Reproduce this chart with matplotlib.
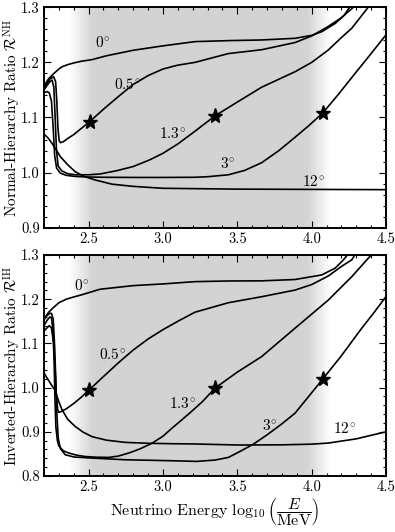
import numpy as np
import matplotlib
matplotlib.use('Agg')
import matplotlib.pyplot as plt
from matplotlib.colors import LinearSegmentedColormap
from matplotlib.ticker import MultipleLocator

plt.rcParams['font.family'] = ['cmr10']
plt.rcParams['mathtext.fontset'] = 'cm'
plt.rcParams['axes.formatter.use_mathtext'] = True
plt.rcParams['axes.unicode_minus'] = False

# ---- normal hierarchy curves (log10 E/MeV, ratio) ----
nh_0_x = [2.20, 2.23, 2.263, 2.30, 2.321, 2.36, 2.40, 2.45, 2.523, 2.62, 2.80, 3.00, 3.215, 3.44, 3.664, 3.888, 4.00, 4.07, 4.16, 4.22, 4.255]
nh_0_y = [1.157, 1.170, 1.179, 1.188, 1.192, 1.196, 1.199, 1.202, 1.205, 1.212, 1.222, 1.230, 1.2377, 1.2395, 1.2407, 1.2437, 1.249, 1.256, 1.271, 1.286, 1.30]

nh_05_x = [2.20, 2.22, 2.24, 2.265, 2.278, 2.286, 2.294, 2.302, 2.31, 2.33, 2.36, 2.40, 2.45, 2.507, 2.60, 2.70, 2.80, 2.90, 3.00, 3.10, 3.215, 3.44, 3.664, 3.888, 4.00, 4.11, 4.20, 4.28]
nh_05_y = [1.153, 1.162, 1.170, 1.174, 1.165, 1.130, 1.080, 1.058, 1.0543, 1.056, 1.062, 1.069, 1.080, 1.0924, 1.115, 1.138, 1.160, 1.176, 1.188, 1.195, 1.200, 1.216, 1.223, 1.236, 1.248, 1.265, 1.281, 1.30]

nh_13_x = [2.20, 2.22, 2.24, 2.254, 2.266, 2.275, 2.284, 2.295, 2.32, 2.36, 2.41, 2.50, 2.577, 2.69, 2.80, 2.91, 3.00, 3.10, 3.215, 3.35, 3.50, 3.664, 3.888, 4.00, 4.11, 4.20, 4.27, 4.38]
nh_13_y = [1.150, 1.158, 1.165, 1.168, 1.155, 1.100, 1.040, 1.012, 1.003, 0.998, 0.996, 0.996, 0.9975, 1.0035, 1.011, 1.023, 1.035, 1.052, 1.075, 1.103, 1.128, 1.155, 1.183, 1.200, 1.222, 1.245, 1.262, 1.30]

nh_3_x = [2.20, 2.22, 2.235, 2.25, 2.262, 2.272, 2.285, 2.31, 2.35, 2.41, 2.50, 2.60, 2.80, 3.00, 3.215, 3.30, 3.44, 3.55, 3.664, 3.78, 3.888, 3.98, 4.074, 4.18, 4.292, 4.40, 4.50]
nh_3_y = [1.145, 1.147, 1.145, 1.130, 1.080, 1.030, 1.008, 0.999, 0.995, 0.993, 0.992, 0.9915, 0.9912, 0.9912, 0.9915, 0.9925, 0.996, 1.004, 1.018, 1.040, 1.064, 1.085, 1.108, 1.142, 1.180, 1.216, 1.250]

nh_12_x = [2.20, 2.23, 2.254, 2.28, 2.31, 2.36, 2.41, 2.47, 2.545, 2.657, 2.80, 3.00, 3.50, 4.00, 4.50]
nh_12_y = [1.070, 1.062, 1.053, 1.042, 1.029, 1.014, 1.0016, 0.993, 0.9866, 0.979, 0.975, 0.9715, 0.970, 0.9695, 0.969]

# ---- inverted hierarchy curves ----
ih_0_x = [2.20, 2.23, 2.26, 2.30, 2.35, 2.40, 2.45, 2.577, 2.80, 3.00, 3.215, 3.44, 3.664, 3.888, 4.067, 4.157, 4.213, 4.24]
ih_0_y = [1.155, 1.170, 1.180, 1.192, 1.200, 1.205, 1.2096, 1.2225, 1.2307, 1.2345, 1.2397, 1.2412, 1.2415, 1.2445, 1.2548, 1.270, 1.2887, 1.30]

ih_05_x = [2.20, 2.22, 2.24, 2.25, 2.262, 2.272, 2.282, 2.292, 2.299, 2.31, 2.35, 2.40, 2.45, 2.505, 2.60, 2.70, 2.80, 2.90, 3.00, 3.10, 3.215, 3.44, 3.664, 3.888, 4.00, 4.112, 4.20, 4.27, 4.29]
ih_05_y = [1.153, 1.163, 1.168, 1.168, 1.155, 1.090, 0.990, 0.950, 0.944, 0.945, 0.952, 0.964, 0.978, 0.995, 1.025, 1.056, 1.085, 1.110, 1.131, 1.150, 1.1705, 1.192, 1.2056, 1.2206, 1.233, 1.2525, 1.274, 1.289, 1.30]

ih_13_x = [2.20, 2.22, 2.24, 2.25, 2.26, 2.268, 2.274, 2.28, 2.29, 2.30, 2.33, 2.366, 2.42, 2.478, 2.55, 2.635, 2.70, 2.78, 2.85, 2.926, 3.00, 3.06, 3.12, 3.182, 3.265, 3.35, 3.50, 3.664, 3.888, 4.112, 4.27, 4.40]
ih_13_y = [1.140, 1.152, 1.160, 1.158, 1.130, 1.060, 0.970, 0.910, 0.880, 0.868, 0.857, 0.852, 0.847, 0.844, 0.8425, 0.842, 0.845, 0.853, 0.862, 0.874, 0.890, 0.908, 0.925, 0.943, 0.968, 0.9988, 1.035, 1.0702, 1.1343, 1.198, 1.251, 1.30]

ih_3_x = [2.20, 2.22, 2.235, 2.25, 2.265, 2.278, 2.288, 2.296, 2.31, 2.343, 2.40, 2.523, 2.747, 3.06, 3.227, 3.35, 3.44, 3.518, 3.608, 3.70, 3.80, 3.888, 3.98, 4.074, 4.20, 4.336, 4.42, 4.50]
ih_3_y = [1.128, 1.135, 1.140, 1.135, 1.100, 1.020, 0.930, 0.885, 0.862, 0.848, 0.843, 0.8405, 0.8367, 0.8345, 0.833, 0.836, 0.842, 0.8555, 0.872, 0.893, 0.918, 0.942, 0.980, 1.019, 1.072, 1.134, 1.170, 1.206]

ih_12_x = [2.20, 2.22, 2.25, 2.272, 2.30, 2.321, 2.36, 2.41, 2.464, 2.523, 2.62, 2.747, 2.90, 3.06, 3.20, 3.518, 3.80, 4.00, 4.112, 4.30, 4.50]
ih_12_y = [1.033, 1.022, 1.006, 0.995, 0.968, 0.950, 0.928, 0.912, 0.899, 0.889, 0.881, 0.876, 0.874, 0.873, 0.8725, 0.870, 0.8705, 0.872, 0.8745, 0.884, 0.900]

# stars on 0.5, 1.3, 3 degree curves
nh_star_x = [2.507, 3.35, 4.074]
nh_star_y = [1.0924, 1.103, 1.108]
ih_star_x = [2.505, 3.35, 4.074]
ih_star_y = [0.995, 0.9988, 1.019]

angle_labels = [r'$0^{\!\circ}$', r'$0.5^{\!\circ}$', r'$1.3^{\!\circ}$', r'$3^{\!\circ}$', r'$12^{\!\circ}$']
nh_label_xy = [(2.597, 1.237), (2.765, 1.159), (3.068, 1.071), (3.437, 1.017), (4.01, 0.984)]
ih_label_xy = [(2.451, 1.232), (2.664, 1.074), (3.13, 0.963), (3.72, 0.914), (4.224, 0.908)]

shade_ramp = LinearSegmentedColormap.from_list('shade', ['white', '#d3d3d3'])


def add_shade(ax, ylo, yhi):
    xs = np.linspace(2.2, 4.5, 600)
    left = np.clip((xs - 2.37) / 0.16, 0, 1)
    right = np.clip((4.13 - xs) / 0.16, 0, 1)
    img = np.minimum(left, right)[None, :]
    ax.imshow(img, extent=[2.2, 4.5, ylo, yhi], aspect='auto',
              cmap=shade_ramp, vmin=0, vmax=1, zorder=0, origin='lower')


def style_axes(ax, ylo, yhi):
    ax.set_xlim(2.2, 4.5)
    ax.set_ylim(ylo, yhi)
    ax.xaxis.set_major_locator(MultipleLocator(0.5))
    ax.xaxis.set_minor_locator(MultipleLocator(0.1))
    ax.yaxis.set_major_locator(MultipleLocator(0.1))
    ax.yaxis.set_minor_locator(MultipleLocator(0.02))
    ax.tick_params(which='both', direction='in', top=True, right=True,
                   labelsize=10.5, width=0.8)
    ax.tick_params(which='major', length=5, pad=3)
    ax.tick_params(which='minor', length=2.5)
    for sp in ax.spines.values():
        sp.set_linewidth(1.4)
    ax.xaxis.set_major_formatter(plt.FuncFormatter(lambda v, p: f'{v:.1f}'))
    ax.yaxis.set_major_formatter(plt.FuncFormatter(lambda v, p: f'{v:.1f}'))


fig = plt.figure(figsize=(3.95, 5.32), dpi=100)
ax1 = fig.add_axes([0.1114, 0.572, 0.8658, 0.4143])
ax2 = fig.add_axes([0.1114, 0.1053, 0.8658, 0.4154])

lw = 1.2
add_shade(ax1, 0.9, 1.3)
for xs, ys in [(nh_0_x, nh_0_y), (nh_05_x, nh_05_y), (nh_13_x, nh_13_y),
               (nh_3_x, nh_3_y), (nh_12_x, nh_12_y)]:
    ax1.plot(xs, ys, color='black', lw=lw, zorder=2)
ax1.plot(nh_star_x, nh_star_y, '*', color='black', ms=11, zorder=3)
for lab, (x, y) in zip(angle_labels, nh_label_xy):
    ax1.text(x, y, lab, fontsize=11, ha='center', va='center', zorder=4)
style_axes(ax1, 0.9, 1.3)
ax1.set_ylabel(r'Normal-Hierarchy Ratio $\mathcal{R}^{\mathrm{NH}}$', fontsize=11)
ax1.yaxis.set_label_coords(-0.062, 0.5)

add_shade(ax2, 0.8, 1.3)
for xs, ys in [(ih_0_x, ih_0_y), (ih_05_x, ih_05_y), (ih_13_x, ih_13_y),
               (ih_3_x, ih_3_y), (ih_12_x, ih_12_y)]:
    ax2.plot(xs, ys, color='black', lw=lw, zorder=2)
ax2.plot(ih_star_x, ih_star_y, '*', color='black', ms=11, zorder=3)
for lab, (x, y) in zip(angle_labels, ih_label_xy):
    ax2.text(x, y, lab, fontsize=11, ha='center', va='center', zorder=4)
style_axes(ax2, 0.8, 1.3)
ax2.set_ylabel(r'Inverted-Hierarchy Ratio $\mathcal{R}^{\mathrm{IH}}$', fontsize=11)
ax2.yaxis.set_label_coords(-0.062, 0.5)
ax2.set_xlabel(r'Neutrino Energy $\log_{10}\left(\dfrac{E}{\mathrm{MeV}}\right)$', fontsize=11.5, labelpad=2)

fig.savefig('out.png', dpi=100)
